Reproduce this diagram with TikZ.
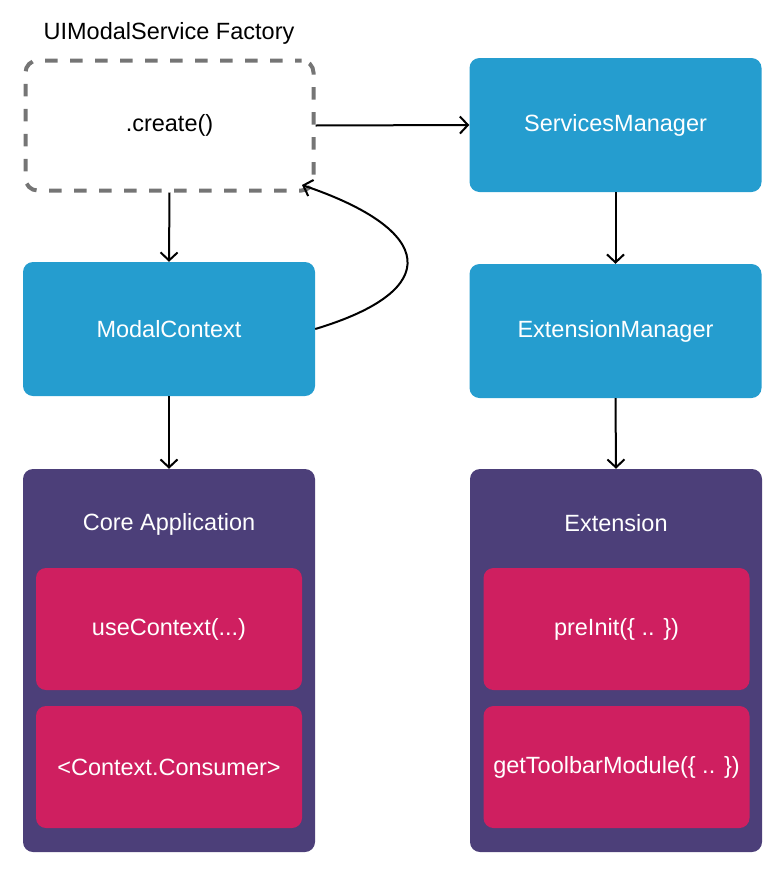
\documentclass[tikz,border=0pt]{standalone}
\usepackage{fontspec}
\setmainfont{Liberation Sans}
\usetikzlibrary{arrows.meta}
\definecolor{cblue}{HTML}{259DCF}
\definecolor{cpurple}{HTML}{4C3F79}
\definecolor{cpink}{HTML}{CF1F60}
\definecolor{cgray}{HTML}{757575}
\begin{document}
\begin{tikzpicture}[x=1pt,y=-1pt,
  every node/.style={font=\fontsize{23.5}{28}\selectfont, inner sep=0pt},
  bluebox/.style={fill=cblue, text=white, rounded corners=10pt, minimum width=292pt, minimum height=134pt},
  dashbox/.style={draw=cgray, line width=4pt, dash pattern=on 12.5pt off 12.5pt, dash phase=6pt, rounded corners=12pt, minimum width=288pt, minimum height=130pt},
  groupbox/.style={fill=cpurple, rounded corners=10pt, minimum width=292pt, minimum height=383pt},
  pinkbox/.style={fill=cpink, text=white, rounded corners=10pt, minimum width=266pt, minimum height=122pt},
  grouptitle/.style={text=white},
  conn/.style={draw=black, line width=2pt, -{Straight Barb[length=8pt,width=17pt,line width=2pt]}}
]
\useasboundingbox (0,0) rectangle (776,873);
\node (title) at (169,33) {UIModalService Factory};
\node[dashbox] (create) at (169.5,125.5) {.create()};
\node[bluebox] (sm) at (615.5,125) {ServicesManager};
\node[bluebox] (mc) at (169,329) {ModalContext};
\node[bluebox] (em) at (615.5,331) {ExtensionManager};
\node[groupbox] (core) at (169,660.5) {};
\node[grouptitle] (coret) at (169,524.5) {Core Application};
\node[pinkbox] (uc) at (169,629) {useContext(...)};
\node[pinkbox] (cc) at (169,767) {<Context.Consumer>};
\node[groupbox] (ext) at (616,660.5) {};
\node[grouptitle] (extt) at (616,523) {Extension};
\node[pinkbox] (pi) at (616.5,629) {preInit(\{ .. \})};
\node[pinkbox] (gt) at (616.5,767) {getToolbarModule(\{ .. \})};
\coordinate (cin) at (302,185);
\draw[conn] (create.east) -- (sm.west);
\draw[conn] (create.south) -- (mc.north);
\draw[conn] (sm.south) -- (em.north);
\draw[conn] (mc.south) -- (core.north);
\draw[conn] (em.south) -- (ext.north);
\draw[conn] (mc.east) .. controls (445,290) and (435,230) .. (cin);
\end{tikzpicture}
\end{document}
